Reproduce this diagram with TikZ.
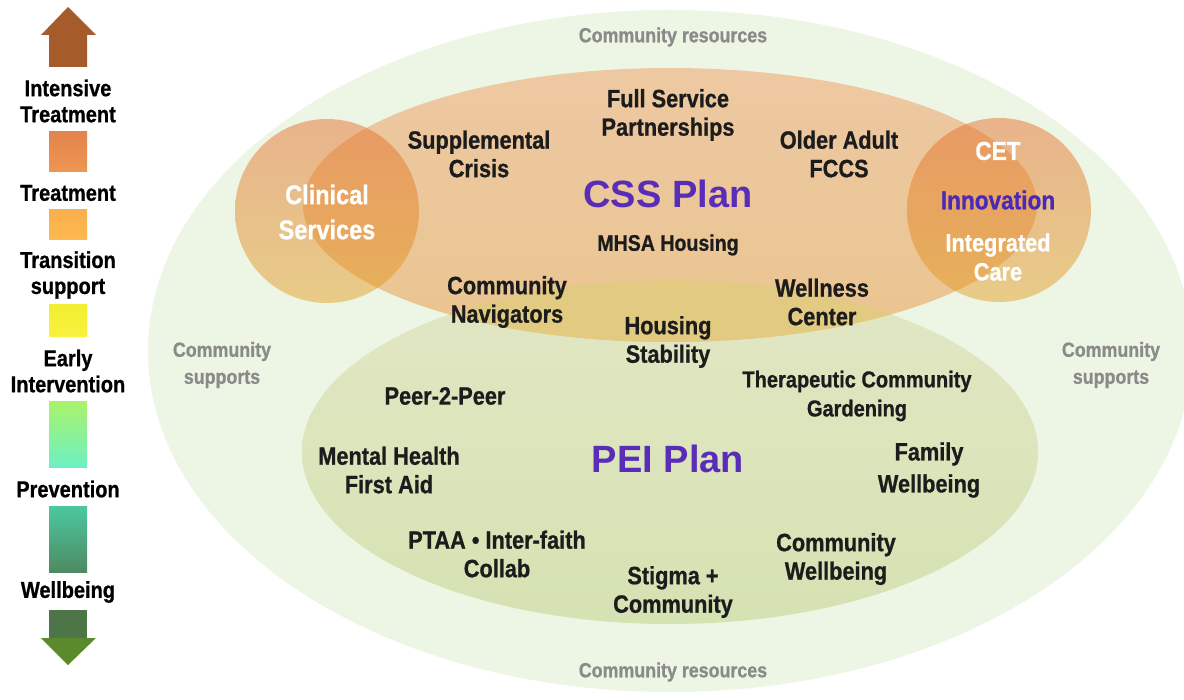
\documentclass[tikz,border=0pt]{standalone}
\usepackage{fontspec}
\setmainfont{Liberation Sans}[FakeStretch=0.87, BoldFeatures={FakeBold=0.8}]
\newfontfamily\widefont{Liberation Sans}
\definecolor{outerg}{HTML}{EDF5E5}
\definecolor{peitop}{HTML}{E2E7C4}
\definecolor{peibot}{HTML}{D5E2B2}
\definecolor{csstop}{HTML}{EDC8A2}
\definecolor{cssbot}{HTML}{EAC590}
\definecolor{ovtop}{HTML}{E6C88C}
\definecolor{ovbot}{HTML}{E2CA80}
\definecolor{circtop}{RGB}{229,100,31}
\definecolor{circbot}{RGB}{227,153,22}
\definecolor{txt}{HTML}{1C1C1C}
\definecolor{gtxt}{HTML}{8A8A8A}
\definecolor{plum}{HTML}{5A2DB8}
\definecolor{innov}{HTML}{4A28B8}
\begin{document}
\begin{tikzpicture}[x=1pt,y=-1pt,
  lbl/.style={font=\bfseries\fontsize{25}{28.5}\selectfont, text=txt, align=center, inner sep=0pt},
  smlbl/.style={font=\bfseries\fontsize{22.5}{28}\selectfont, text=txt, align=center, inner sep=0pt},
  graylbl/.style={font=\bfseries\fontsize{20.5}{27}\selectfont, text=gtxt, align=center, inner sep=0pt},
  whitelbl/.style={font=\bfseries\fontsize{27}{35}\selectfont, text=white, align=center, inner sep=0pt},
  planlbl/.style={font=\widefont\bfseries\fontsize{38}{40}\selectfont, text=plum, inner sep=0pt},
  leftlbl/.style={font=\bfseries\fontsize{23}{26}\selectfont, text=black, align=center, inner sep=0pt},
  circ/.style={top color=circtop, bottom color=circbot, fill opacity=0.45}
]
\useasboundingbox (0,0) rectangle (1184,700);
\clip (0,0) rectangle (1184,700);
\fill[white] (0,0) rectangle (1184,700);

% outer community ellipse
\fill[outerg] (670,351) ellipse [x radius=522, y radius=341];
% PEI ellipse
\shade[top color=peitop, bottom color=peibot] (670,452) ellipse [x radius=368, y radius=172];
% CSS ellipse
\shade[top color=csstop, bottom color=cssbot] (670,205) ellipse [x radius=367, y radius=137];
% overlap
\begin{scope}
  \clip (670,452) ellipse [x radius=368, y radius=172];
  \shade[top color=ovtop, bottom color=ovbot] (670,205) ellipse [x radius=367, y radius=137];
\end{scope}
% circles
\shade[circ] (327,211) circle [radius=92];
\shade[circ] (999,210) circle [radius=92];

% left scale
\fill[fill={rgb,255:red,166;green,91;blue,43}] (68,7) -- (96,35) -- (87,35) -- (87,67) -- (49,67) -- (49,35) -- (41,35) -- cycle;
\shade[top color={rgb,255:red,226;green,132;blue,76}, bottom color={rgb,255:red,238;green,150;blue,82}] (49,132) rectangle (87,172);
\shade[top color={rgb,255:red,250;green,174;blue,76}, bottom color={rgb,255:red,252;green,186;blue,80}] (49,210) rectangle (87,240);
\shade[top color={rgb,255:red,240;green,240;blue,48}, bottom color={rgb,255:red,250;green,240;blue,64}] (49,305) rectangle (87,337);
\shade[top color={rgb,255:red,170;green,242;blue,108}, bottom color={rgb,255:red,108;green,240;blue,196}] (49,402) rectangle (87,468);
\shade[top color={rgb,255:red,76;green,200;blue,160}, bottom color={rgb,255:red,78;green,138;blue,98}] (49,506) rectangle (87,572);
\fill[fill={rgb,255:red,78;green,117;blue,72}] (49,610) rectangle (87,638);
\fill[fill={rgb,255:red,91;green,138;blue,44}] (41,638) -- (96,638) -- (68,665) -- cycle;

\node[leftlbl] (l1) at (68,101) {Intensive\\Treatment};
\node[leftlbl] (l2) at (68,193) {Treatment};
\node[leftlbl] (l3) at (68,275) {Transition\\support};
\node[leftlbl] (l4) at (68,371) {Early\\Intervention};
\node[leftlbl] (l5) at (68,489) {Prevention};
\node[leftlbl] (l6) at (68,592) {Wellbeing};

% gray labels
\node[graylbl] (cr1) at (673,37) {Community resources};
\node[graylbl] (cr2) at (673,672) {Community resources};
\node[graylbl] (cs1) at (222,365) {Community\\supports};
\node[graylbl] (cs2) at (1111,365) {Community\\supports};

% CSS labels
\node[lbl] (fsp) at (668,115) {Full Service\\Partnerships};
\node[lbl] (sc) at (479,154) {Supplemental\\Crisis};
\node[lbl] (oa) at (839,154) {Older Adult\\FCCS};
\node[planlbl] (css) at (668,194) {CSS Plan};
\node[smlbl] (mhsa) at (668,245) {MHSA Housing};
\node[whitelbl] (clin) at (327,212) {Clinical\\Services};
\node[font=\bfseries\fontsize{26}{30}\selectfont, text=white, inner sep=0pt] (cet) at (998,151) {CET};
\node[font=\bfseries\fontsize{26}{30}\selectfont, text=innov, inner sep=0pt] (inn) at (998,200) {Innovation};
\node[font=\bfseries\fontsize{25}{29}\selectfont, text=white, align=center, inner sep=0pt] (ic) at (998,257) {Integrated\\Care};
\node[lbl] (cn) at (507,302) {Community\\Navigators};
\node[lbl] (wc) at (822,302) {Wellness\\Center};
\node[lbl] (hs) at (668,342) {Housing\\Stability};

% PEI labels
\node[lbl] (p2p) at (445,396) {Peer-2-Peer};
\node[font=\bfseries\fontsize{23}{29}\selectfont, text=txt, align=center, inner sep=0pt] (tcg) at (857,396) {Therapeutic Community\\Gardening};
\node[planlbl] (pei) at (668,459) {PEI Plan};
\node[lbl] (mh) at (389,470) {Mental Health\\First Aid};
\node[font=\bfseries\fontsize{25}{32}\selectfont, text=txt, align=center, inner sep=0pt] (fw) at (929,470) {Family\\Wellbeing};
\node[lbl] (ptaa) at (497,554) {PTAA • Inter-faith\\Collab};
\node[lbl] (cw) at (836,559) {Community\\Wellbeing};
\node[lbl] (sg) at (673,592) {Stigma +\\Community};
\end{tikzpicture}
\end{document}
